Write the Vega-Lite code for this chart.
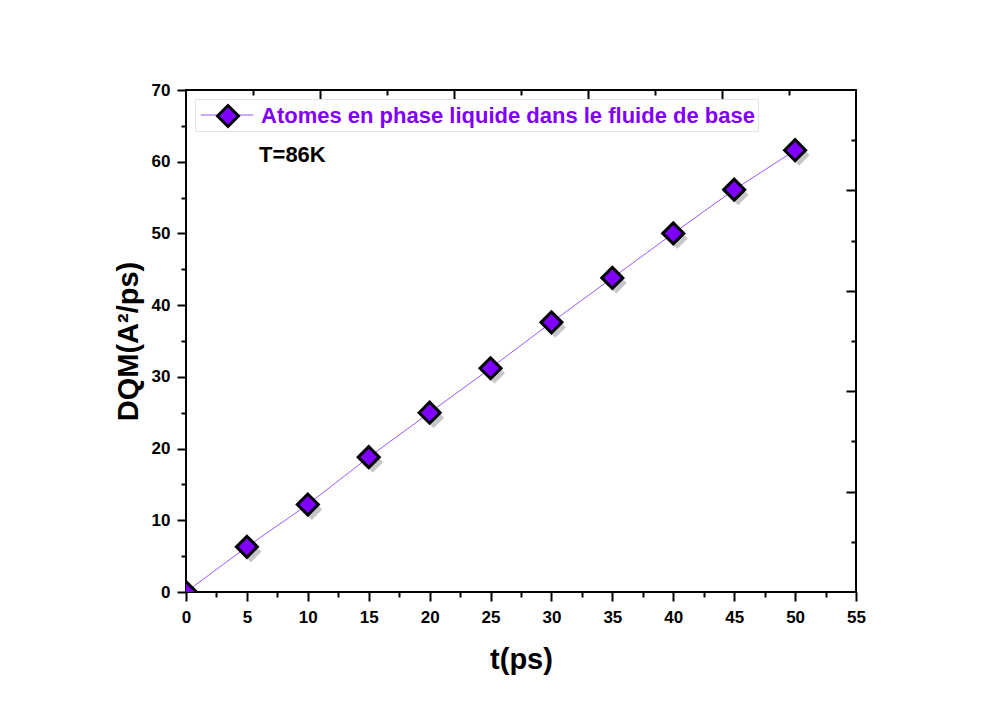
{
  "$schema": "https://vega.github.io/schema/vega-lite/v6.json",
  "width": 670,
  "height": 502,
  "autosize": {"type": "none"},
  "padding": {"left": 186, "top": 90, "right": 128, "bottom": 115},
  "background": "white",
  "config": {
    "view": {"stroke": "#000000", "strokeWidth": 2},
    "font": "Liberation Sans",
    "axis": {
      "domain": false,
      "grid": false,
      "tickColor": "#000000",
      "tickWidth": 2,
      "labelFont": "Liberation Sans",
      "labelFontWeight": "bold",
      "labelFontSize": 17,
      "labelColor": "#000000",
      "titleFont": "Liberation Sans",
      "titleFontWeight": "bold",
      "titleFontSize": 29,
      "titleColor": "#000000"
    }
  },
  "data": {
    "values": [
      {"t": 0, "dqm": 0, "serie": "Atomes en phase liquide dans le fluide de base"},
      {"t": 5, "dqm": 6.3, "serie": "Atomes en phase liquide dans le fluide de base"},
      {"t": 10, "dqm": 12.2, "serie": "Atomes en phase liquide dans le fluide de base"},
      {"t": 15, "dqm": 18.8, "serie": "Atomes en phase liquide dans le fluide de base"},
      {"t": 20, "dqm": 25.0, "serie": "Atomes en phase liquide dans le fluide de base"},
      {"t": 25, "dqm": 31.2, "serie": "Atomes en phase liquide dans le fluide de base"},
      {"t": 30, "dqm": 37.6, "serie": "Atomes en phase liquide dans le fluide de base"},
      {"t": 35, "dqm": 43.8, "serie": "Atomes en phase liquide dans le fluide de base"},
      {"t": 40, "dqm": 50.0, "serie": "Atomes en phase liquide dans le fluide de base"},
      {"t": 45, "dqm": 56.1, "serie": "Atomes en phase liquide dans le fluide de base"},
      {"t": 50, "dqm": 61.6, "serie": "Atomes en phase liquide dans le fluide de base"}
    ]
  },
  "layer": [
    {
      "mark": {"type": "line", "strokeWidth": 1, "clip": true},
      "encoding": {
        "x": {
          "field": "t", "type": "quantitative",
          "scale": {"domain": [0, 55], "nice": false, "zero": false},
          "axis": {"orient": "bottom", "values": [0, 5, 10, 15, 20, 25, 30, 35, 40, 45, 50, 55], "tickSize": 9, "labelPadding": 8, "title": "t(ps)", "titlePadding": 20, "labelFlush": false}
        },
        "y": {
          "field": "dqm", "type": "quantitative",
          "scale": {"domain": [0, 70], "nice": false, "zero": false},
          "axis": {"orient": "left", "values": [0, 10, 20, 30, 40, 50, 60, 70], "tickSize": 9, "labelPadding": 7, "title": "DQM(A²/ps)", "titlePadding": 8, "labelFlush": false}
        },
        "stroke": {
          "field": "serie", "type": "nominal",
          "scale": {"range": ["#9b59ff"]},
          "legend": {
            "title": null, "orient": "top-left", "offset": 9, "padding": 5,
            "fillColor": "#ffffff", "strokeColor": "#e2e2e2",
            "symbolType": "M-2.5,0H2.5", "symbolSize": 441, "symbolStrokeWidth": 1,
            "symbolOffset": 16, "labelOffset": 21,
            "labelFont": "Liberation Sans", "labelFontSize": 22, "labelFontWeight": "bold",
            "labelOpacity": 0, "labelLimit": 0, "zindex": 0
          }
        }
      }
    },
    {
      "mark": {"type": "point", "shape": "diamond", "filled": true, "size": 441, "color": "#000000", "opacity": 0.22, "xOffset": 4, "yOffset": 5, "clip": true},
      "encoding": {
        "x": {"field": "t", "type": "quantitative", "axis": {"orient": "bottom", "values": [2.5, 7.5, 12.5, 17.5, 22.5, 27.5, 32.5, 37.5, 42.5, 47.5, 52.5], "tickSize": 5, "labels": false, "title": null}},
        "y": {"field": "dqm", "type": "quantitative", "axis": {"orient": "left", "values": [5, 15, 25, 35, 45, 55, 65], "tickSize": 5, "labels": false, "title": null}}
      }
    },
    {
      "mark": {"type": "point", "shape": "diamond", "filled": true, "size": 441, "stroke": "#000000", "strokeWidth": 3, "opacity": 1, "clip": true},
      "encoding": {
        "x": {"field": "t", "type": "quantitative", "axis": {"orient": "top", "values": [11, 22, 33, 44], "tickSize": -9, "labels": false, "title": null}},
        "y": {"field": "dqm", "type": "quantitative", "axis": {"orient": "right", "values": [14, 28, 42, 56], "tickSize": -10, "labels": false, "title": null}},
        "fill": {
          "field": "serie", "type": "nominal",
          "scale": {"range": ["#8000ff"]},
          "legend": {
            "title": null, "orient": "none", "legendX": 9, "legendY": 9, "padding": 5,
            "symbolType": "diamond", "symbolSize": 441, "symbolStrokeColor": "#000000", "symbolStrokeWidth": 3,
            "symbolOffset": 16, "labelOffset": 21,
            "labelFont": "Liberation Sans", "labelFontSize": 22, "labelFontWeight": "bold",
            "labelColor": "#8000ff", "labelLimit": 0, "zindex": 1
          }
        }
      }
    },
    {
      "mark": {"type": "point", "opacity": 0},
      "encoding": {
        "x": {"field": "t", "type": "quantitative", "axis": {"orient": "top", "values": [5.5, 16.5, 27.5, 38.5, 49.5], "tickSize": -5, "labels": false, "title": null}},
        "y": {"field": "dqm", "type": "quantitative", "axis": {"orient": "right", "values": [7, 21, 35, 49, 63], "tickSize": -5, "labels": false, "title": null}}
      }
    },
    {
      "data": {"values": [{"note": "T=86K"}]},
      "mark": {"type": "text", "align": "left", "baseline": "middle", "font": "Liberation Sans", "fontWeight": "bold", "fontSize": 22, "color": "#000000"},
      "encoding": {
        "text": {"field": "note", "type": "nominal"},
        "x": {"datum": 6.0, "type": "quantitative", "axis": null},
        "y": {"datum": 60.9, "type": "quantitative", "axis": null}
      }
    }
  ],
  "resolve": {"axis": {"x": "independent", "y": "independent"}}
}
